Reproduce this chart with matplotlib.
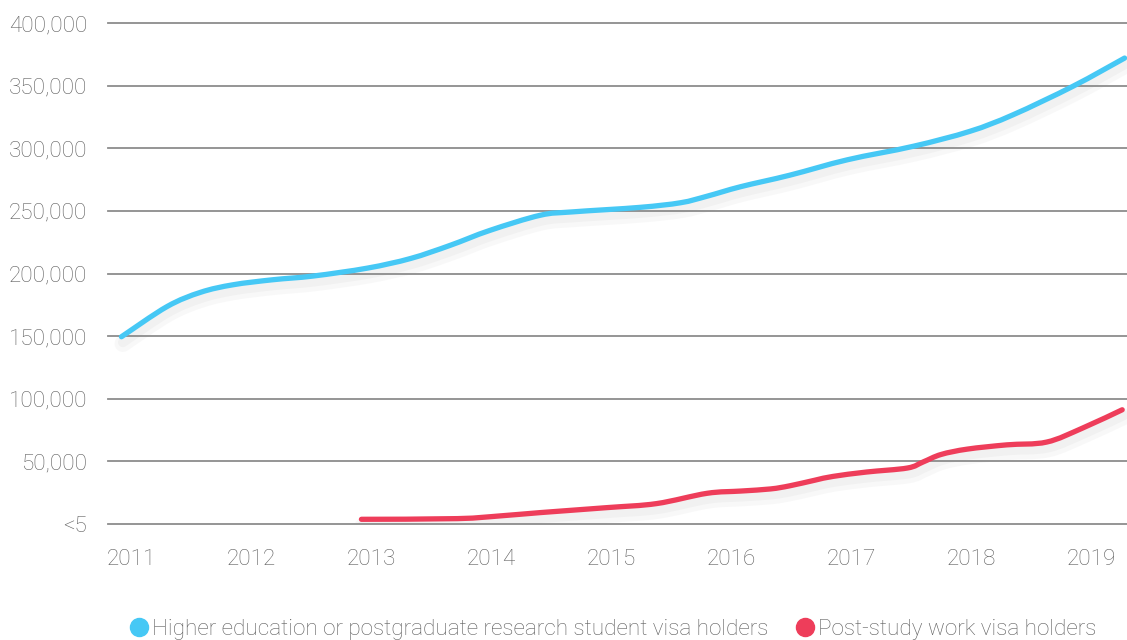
import matplotlib
matplotlib.use("Agg")
import numpy as np
import matplotlib.pyplot as plt
import matplotlib.patheffects as pe
from matplotlib.lines import Line2D
from matplotlib.path import Path
from matplotlib.patches import PathPatch

# readings (decimal years, visa holders)
he_years = [2010.92, 2011.30, 2011.58, 2011.85, 2012.18, 2012.52, 2012.97, 2013.33,
            2013.66, 2013.99, 2014.41, 2014.68, 2015.24, 2015.58, 2015.80, 2016.08,
            2016.49, 2016.97, 2017.52, 2017.99, 2018.35, 2018.85, 2019.28]
he_values = [149500, 173600, 185000, 191000, 195000, 198000, 204300, 212000,
             222500, 234400, 246500, 249200, 252800, 256500, 261700, 269300,
             278500, 290800, 301600, 313500, 326700, 349500, 372000]

psw_years = [2012.92, 2013.72, 2014.08, 2014.41, 2014.97, 2015.38, 2015.80, 2016.08,
             2016.33, 2016.49, 2016.70, 2016.85, 2017.13, 2017.47, 2017.60, 2017.75,
             2017.97, 2018.30, 2018.63, 2018.93, 2019.26]
psw_values = [3750, 4300, 6500, 9100, 13100, 16300, 24500, 26300,
              28000, 30500, 35000, 38000, 41500, 44700, 49500, 55500,
              59800, 63200, 65400, 76600, 91200]

year_ticks = [2011, 2012, 2013, 2014, 2015, 2016, 2017, 2018, 2019]
y_ticks = [0, 50000, 100000, 150000, 200000, 250000, 300000, 350000, 400000]
y_labels = ["<5", "50,000", "100,000", "150,000", "200,000", "250,000",
            "300,000", "350,000", "400,000"]

blue = "#46c8f5"
red = "#ee3d5a"
grey_txt = "#5e5e5e"


def smooth_path(xs, ys):
    # catmull-rom through the points, as cubic bezier segments
    p = np.column_stack([xs, ys]).astype(float)
    n = len(p)
    verts = [p[0]]
    codes = [Path.MOVETO]
    for i in range(n - 1):
        p0 = p[i - 1] if i > 0 else p[i]
        p3 = p[i + 2] if i + 2 < n else p[i + 1]
        c1 = p[i] + (p[i + 1] - p0) / 6
        c2 = p[i + 1] - (p3 - p[i]) / 6
        verts += [c1, c2, p[i + 1]]
        codes += [Path.CURVE4] * 3
    return Path(verts, codes)


plt.rcParams["font.family"] = ["Roboto", "DejaVu Sans"]
plt.rcParams["font.weight"] = "light"

fig = plt.figure(figsize=(11.27, 6.4), dpi=100)
ax = fig.add_axes([108 / 1127, 1 - 524 / 640, 1 - 108 / 1127, (524 - 23) / 640])

shadow = [pe.SimpleLineShadow(offset=(1, -5), shadow_color="#888888", alpha=0.05, linewidth=12),
          pe.SimpleLineShadow(offset=(1, -4), shadow_color="#888888", alpha=0.06, linewidth=7),
          pe.Normal()]

for xs, ys, col in [(he_years, he_values, blue), (psw_years, psw_values, red)]:
    patch = PathPatch(smooth_path(xs, ys), fill=False, edgecolor=col, lw=3.8,
                      capstyle="round", joinstyle="round", path_effects=shadow, zorder=3)
    ax.add_patch(patch)

ax.set_xlim(2010.808, 2019.3)
ax.set_ylim(0, 400000)
ax.set_yticks(y_ticks)
ax.set_yticklabels(y_labels)
ax.set_xticks(year_ticks)
ax.set_xticklabels([str(y) for y in year_ticks])

for y in y_ticks:
    ax.axhline(y, color="#8c8c8c", lw=1.3, zorder=1, clip_on=False)

for s in ax.spines.values():
    s.set_visible(False)
ax.tick_params(axis="both", length=0, labelsize=16.2, labelcolor=grey_txt)
ax.tick_params(axis="y", pad=15)
ax.tick_params(axis="x", pad=18)

handles = [Line2D([], [], ls="none", marker="o", markersize=13, color=blue),
           Line2D([], [], ls="none", marker="o", markersize=13, color=red)]
leg = fig.legend(handles,
                 ["Higher education or postgraduate research student visa holders",
                  "Post-study work visa holders"],
                 loc="center", bbox_to_anchor=(612 / 1127, 1 - 629 / 640), ncol=2,
                 frameon=False, fontsize=16.2, handletextpad=0.1, columnspacing=1.1,
                 handlelength=1.0, borderaxespad=0)
for t in leg.get_texts():
    t.set_color(grey_txt)

fig.savefig("out.png", dpi=100)
